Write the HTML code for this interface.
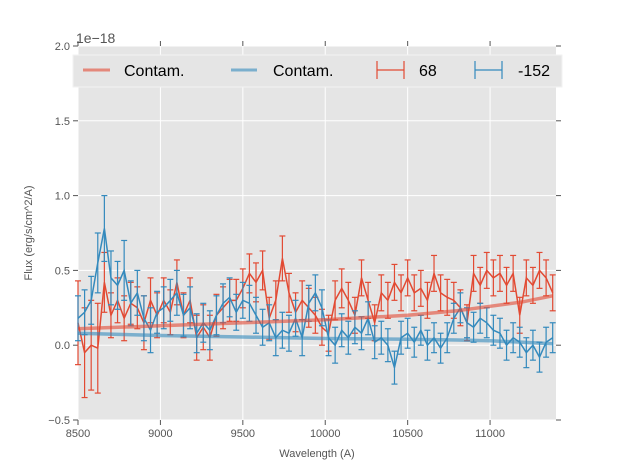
<!DOCTYPE html>
<html><head><meta charset="utf-8"><style>
body{margin:0;background:#fff;}
svg text{font-family:"Liberation Sans",sans-serif;}
</style></head><body>
<svg id="chart" width="617" height="467" xmlns="http://www.w3.org/2000/svg"></svg>
<script>
const wavelengths = [];
for (let w = 8500; w <= 11380; w += 40) wavelengths.push(w);
const redFlux = [0.15,-0.05,0.0,-0.02,0.42,0.2,0.3,0.18,0.28,0.25,0.15,0.3,0.2,0.3,0.22,0.42,0.2,0.3,0.05,0.12,0.05,0.2,0.25,0.3,0.3,0.38,0.48,0.42,0.5,0.18,0.3,0.58,0.35,0.22,0.3,0.25,0.2,0.12,0.08,0.3,0.38,0.3,0.2,0.45,0.3,0.15,0.35,0.3,0.42,0.35,0.45,0.35,0.38,0.3,0.48,0.35,0.32,0.3,0.25,0.15,0.48,0.4,0.5,0.45,0.48,0.4,0.48,0.2,0.45,0.4,0.5,0.45,0.35];
const redErr = [0.28,0.3,0.3,0.3,0.2,0.15,0.15,0.15,0.14,0.14,0.18,0.15,0.15,0.15,0.15,0.15,0.15,0.15,0.15,0.15,0.15,0.14,0.14,0.14,0.14,0.13,0.13,0.13,0.13,0.14,0.13,0.15,0.13,0.13,0.13,0.13,0.12,0.12,0.12,0.13,0.13,0.12,0.12,0.12,0.12,0.12,0.12,0.12,0.12,0.12,0.12,0.12,0.12,0.12,0.12,0.12,0.12,0.12,0.12,0.12,0.12,0.12,0.12,0.12,0.12,0.12,0.12,0.12,0.12,0.12,0.12,0.12,0.12];
const blueFlux = [0.18,0.22,0.3,0.55,0.78,0.45,0.4,0.5,0.28,0.35,0.18,0.1,0.22,0.25,0.3,0.35,0.2,0.25,0.08,0.15,0.1,0.2,0.28,0.32,0.22,0.3,0.28,0.2,0.12,0.15,0.05,0.1,0.08,0.18,0.05,0.28,0.35,0.25,0.05,0.0,0.1,0.05,0.12,0.08,0.18,0.02,0.05,0.0,-0.15,0.05,0.08,0.02,0.1,0.0,0.05,-0.02,0.05,0.18,0.25,0.15,0.12,0.18,0.15,0.1,0.08,0.0,0.05,0.02,-0.05,0.0,-0.08,0.02,0.05];
const blueErr = [0.15,0.15,0.16,0.2,0.22,0.18,0.16,0.2,0.15,0.15,0.15,0.15,0.14,0.14,0.14,0.15,0.14,0.14,0.13,0.13,0.13,0.13,0.13,0.13,0.12,0.12,0.12,0.12,0.12,0.12,0.12,0.12,0.12,0.12,0.12,0.12,0.12,0.12,0.12,0.12,0.11,0.11,0.11,0.11,0.11,0.11,0.11,0.11,0.11,0.11,0.1,0.1,0.1,0.1,0.1,0.1,0.1,0.1,0.1,0.1,0.1,0.1,0.1,0.1,0.1,0.1,0.1,0.1,0.1,0.1,0.1,0.1,0.1];
const contamWave = [8500,9000,9500,10000,10500,10800,11000,11200,11380];
const redContam = [0.11,0.13,0.15,0.17,0.2,0.23,0.26,0.29,0.33];
const blueContam = [0.08,0.065,0.055,0.045,0.04,0.035,0.03,0.02,0.01];
const xTicks = [8500,9000,9500,10000,10500,11000];
const yTicks = [-0.5,0.0,0.5,1.0,1.5,2.0];
const yTickLabels = ["−0.5","0.0","0.5","1.0","1.5","2.0"];

const L=78,R=556,T=46,B=420, XMIN=8500,XMAX=11400,YMIN=-0.5,YMAX=2.0;
const sx=v=>L+(v-XMIN)/(XMAX-XMIN)*(R-L);
const sy=v=>B-(v-YMIN)/(YMAX-YMIN)*(B-T);
const svg=document.getElementById('chart');
const NS='http://www.w3.org/2000/svg';
function mk(tag,attrs,parent){const e=document.createElementNS(NS,tag);for(const k in attrs)e.setAttribute(k,attrs[k]);(parent||svg).appendChild(e);return e;}

const bg=mk('rect',{x:L,y:T,width:R-L,height:B-T,fill:'#E5E5E5'});


const grid=mk('g',{});


xTicks.forEach(v=>{mk('line',{x1:sx(v),x2:sx(v),y1:T,y2:B,stroke:'#fff','stroke-width':1},grid);});
yTicks.forEach(v=>{mk('line',{x1:L,x2:R,y1:sy(v),y2:sy(v),stroke:'#fff','stroke-width':1},grid);});

const xAx=mk('g',{});


xTicks.forEach(v=>{
  mk('line',{x1:sx(v),x2:sx(v),y1:B,y2:B+5,stroke:'#555'},xAx);
  mk('line',{x1:sx(v),x2:sx(v),y1:T,y2:T-5,stroke:'#555'},xAx);
  const t=mk('text',{x:sx(v),y:B+17,'text-anchor':'middle','font-size':11,fill:'#555'},xAx);t.textContent=v;
  
  
});
const yAx=mk('g',{});


yTicks.forEach((v,i)=>{
  mk('line',{x1:L-5,x2:L,y1:sy(v),y2:sy(v),stroke:'#555'},yAx);
  mk('line',{x1:R,x2:R+5,y1:sy(v),y2:sy(v),stroke:'#555'},yAx);
  const t=mk('text',{x:L-8,y:sy(v)+4,'text-anchor':'end','font-size':11,fill:'#555'},yAx);t.textContent=yTickLabels[i];
  
  
});
const off=mk('text',{x:76,y:43,'font-size':14,fill:'#555'});off.textContent='1e−18';


const xt=mk('text',{x:(L+R)/2,y:457,'text-anchor':'middle','font-size':11,fill:'#555'});xt.textContent='Wavelength (A)';


const yt=mk('text',{x:32,y:(T+B)/2,'text-anchor':'middle','font-size':11,fill:'#555',transform:`rotate(-90 32 ${(T+B)/2})`});yt.textContent='Flux (erg/s/cm^2/A)';



function contam(arr,color,name){
  const d=contamWave.map((w,i)=>(i?'L':'M')+sx(w)+','+sy(arr[i])).join('');
  const p=mk('path',{d,fill:'none',stroke:color,'stroke-width':3.5,'stroke-opacity':0.6});
  
  
}
function series(flux,err,color,name){
  const g=mk('g',{});
  
  
  const n=Math.min(wavelengths.length,flux.length,err.length);
  for(let i=0;i<n;i++){
    const x=sx(wavelengths[i]),y1=sy(flux[i]-err[i]),y2=sy(flux[i]+err[i]);
    mk('line',{x1:x,x2:x,y1,y2,stroke:color,'stroke-width':1.2},g);
    mk('line',{x1:x-3,x2:x+3,y1,y2:y1,stroke:color,'stroke-width':1.2},g);
    mk('line',{x1:x-3,x2:x+3,y1:y2,y2:y2,stroke:color,'stroke-width':1.2},g);
  }
  let d='';for(let i=0;i<n;i++)d+=(i?'L':'M')+sx(wavelengths[i])+','+sy(flux[i]);
  mk('path',{d,fill:'none',stroke:color,'stroke-width':1.5},g);
}
const clip=mk('clipPath',{id:'c'});mk('rect',{x:L,y:T,width:R-L,height:B-T},clip);
series(redFlux,redErr,'#E24A33','series-68');
series(blueFlux,blueErr,'#348ABD','series-neg152');
contam(redContam,'#E24A33','contam-red-line');
contam(blueContam,'#348ABD','contam-blue-line');

const lg=mk('g',{});


mk('rect',{x:73,y:55,width:489,height:32,fill:'#E5E5E5',stroke:'#f2f2f2','stroke-width':1},lg);
mk('line',{x1:83,x2:110,y1:70,y2:70,stroke:'#E24A33','stroke-width':3,'stroke-opacity':0.6},lg);
mk('line',{x1:231,x2:257,y1:70,y2:70,stroke:'#348ABD','stroke-width':3,'stroke-opacity':0.6},lg);
[[377,'#E24A33'],[475,'#348ABD']].forEach(([x,c])=>{
  mk('line',{x1:x,x2:x+27,y1:70,y2:70,stroke:c,'stroke-width':1.2},lg);
  mk('line',{x1:x,x2:x,y1:61,y2:79,stroke:c,'stroke-width':1.2},lg);
  mk('line',{x1:x+27,x2:x+27,y1:61,y2:79,stroke:c,'stroke-width':1.2},lg);
});
[[124,'Contam.'],[273,'Contam.'],[419,'68'],[518,'-152']].forEach(([x,s])=>{
  const t=mk('text',{x,y:76,'font-size':16,fill:'#000'},lg);t.textContent=s;
  
  
});
</script>
</body></html>
